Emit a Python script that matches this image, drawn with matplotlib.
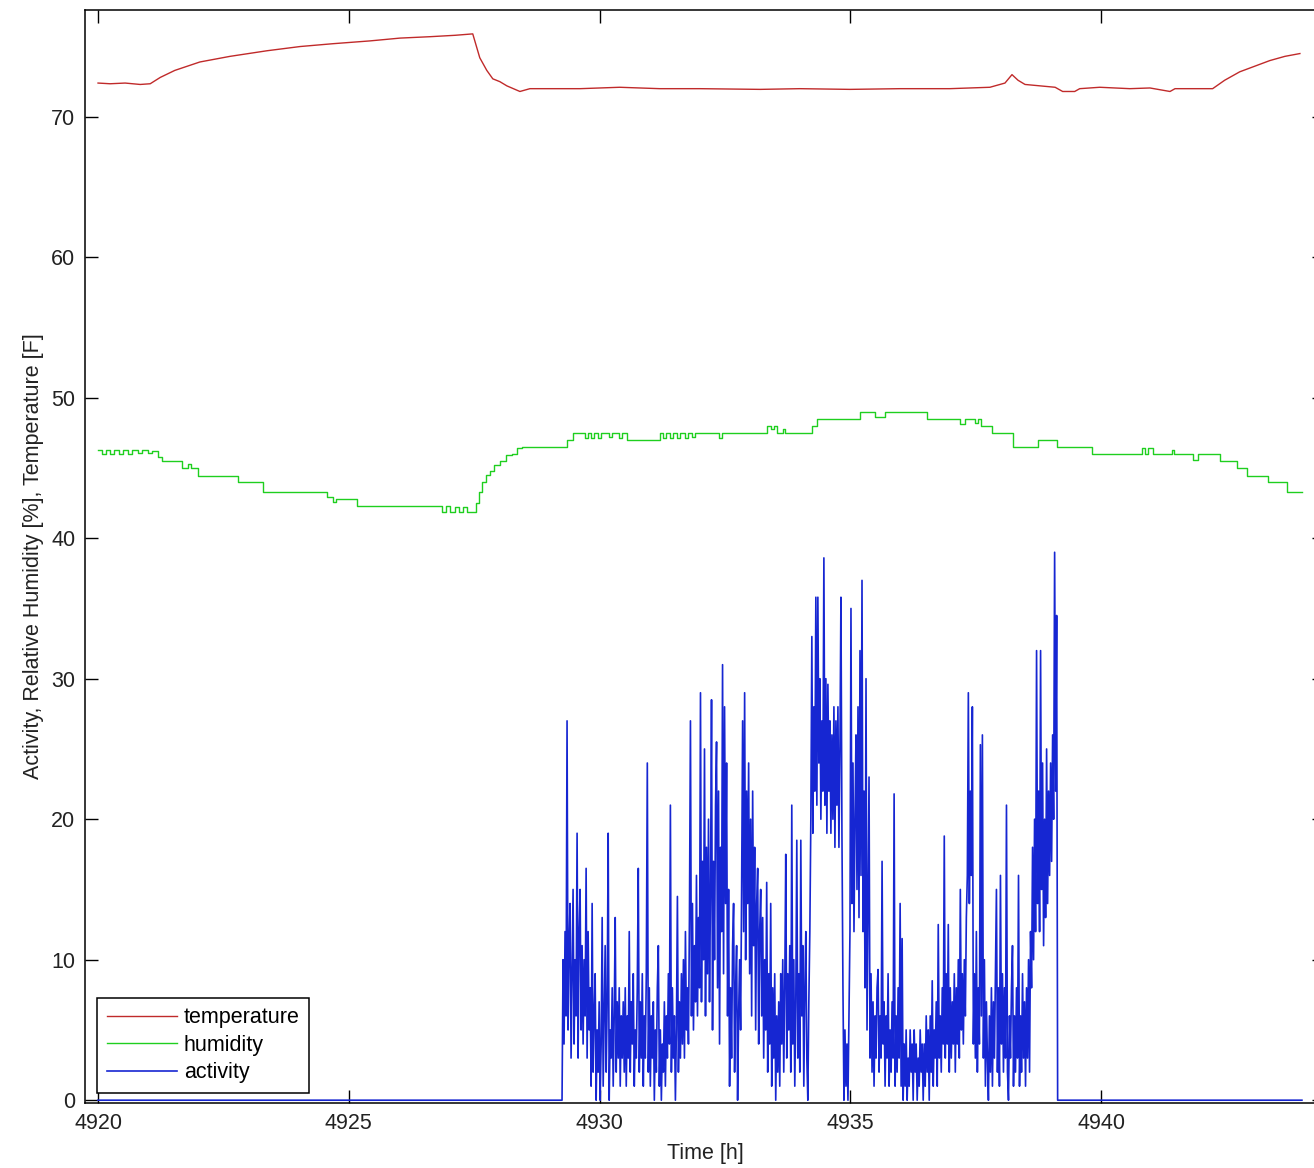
import numpy as np
import matplotlib
matplotlib.use('Agg')
import matplotlib.pyplot as plt

# temperature [F]
temp_time = [4920.00, 4920.24, 4920.54, 4920.84, 4921.04, 4921.24, 4921.53, 4922.03,
             4922.63, 4923.37, 4924.03, 4924.68, 4925.42, 4926.02, 4926.62, 4927.12,
             4927.47, 4927.61, 4927.75, 4927.87, 4928.01, 4928.15, 4928.41, 4928.61,
             4929.61, 4930.40, 4931.20, 4932.00, 4933.20, 4933.99, 4934.99, 4935.99,
             4936.98, 4937.78, 4938.08, 4938.22, 4938.34, 4938.48, 4938.78, 4939.08,
             4939.23, 4939.47, 4939.57, 4939.97, 4940.57, 4940.97, 4941.37, 4941.47,
             4942.22, 4942.46, 4942.76, 4943.06, 4943.36, 4943.66, 4943.96]
temp_vals = [72.4, 72.35, 72.4, 72.3, 72.35, 72.8, 73.3, 73.9,
             74.3, 74.7, 75.0, 75.2, 75.4, 75.6, 75.7, 75.8,
             75.9, 74.2, 73.3, 72.7, 72.5, 72.2, 71.8, 72.0,
             72.0, 72.1, 72.0, 72.0, 71.95, 72.0, 71.95, 72.0,
             72.0, 72.1, 72.4, 73.0, 72.6, 72.3, 72.2, 72.1,
             71.8, 71.8, 72.0, 72.1, 72.0, 72.05, 71.8, 72.0,
             72.0, 72.6, 73.2, 73.6, 74.0, 74.3, 74.5]

# relative humidity [%], step changes
hum_time = [4920.00, 4920.08, 4920.16, 4920.24, 4920.32, 4920.42, 4920.50, 4920.60,
            4920.68, 4920.80, 4920.88, 4921.00, 4921.08, 4921.20, 4921.28, 4921.67,
            4921.79, 4921.85, 4921.99, 4922.79, 4923.29, 4924.56, 4924.68, 4924.74,
            4925.16, 4926.86, 4926.94, 4927.02, 4927.12, 4927.20, 4927.28, 4927.36,
            4927.53, 4927.59, 4927.65, 4927.73, 4927.81, 4927.89, 4928.01, 4928.13,
            4928.25, 4928.35, 4928.45, 4929.35, 4929.47, 4929.71, 4929.77, 4929.83,
            4929.89, 4929.97, 4930.03, 4930.19, 4930.25, 4930.38, 4930.45, 4930.54,
            4931.20, 4931.26, 4931.32, 4931.40, 4931.46, 4931.54, 4931.60, 4931.70,
            4931.76, 4931.84, 4931.90, 4932.38, 4932.44, 4933.33, 4933.41, 4933.47,
            4933.53, 4933.65, 4933.69, 4934.23, 4934.33, 4935.19, 4935.49, 4935.69,
            4936.52, 4937.18, 4937.28, 4937.48, 4937.54, 4937.60, 4937.82, 4938.24,
            4938.74, 4939.11, 4939.81, 4940.81, 4940.87, 4940.93, 4941.03, 4941.41,
            4941.45, 4941.83, 4941.92, 4942.36, 4942.70, 4942.90, 4943.32, 4943.70,
            4944.00]
hum_vals = [46.3, 46.0, 46.3, 46.0, 46.3, 46.0, 46.3, 46.0,
            46.3, 46.1, 46.3, 46.1, 46.2, 45.8, 45.5, 45.0,
            45.3, 45.0, 44.4, 44.0, 43.3, 42.9, 42.6, 42.8,
            42.3, 41.9, 42.3, 41.9, 42.2, 41.9, 42.2, 41.9,
            42.5, 43.3, 44.0, 44.5, 44.8, 45.2, 45.5, 45.9,
            46.0, 46.4, 46.5, 47.0, 47.5, 47.1, 47.5, 47.1,
            47.5, 47.1, 47.5, 47.2, 47.5, 47.1, 47.5, 47.0,
            47.5, 47.1, 47.5, 47.1, 47.5, 47.1, 47.5, 47.1,
            47.5, 47.2, 47.5, 47.1, 47.5, 48.0, 47.8, 48.0,
            47.5, 47.8, 47.5, 48.0, 48.5, 49.0, 48.6, 49.0,
            48.5, 48.1, 48.5, 48.2, 48.5, 48.0, 47.5, 46.5,
            47.0, 46.5, 46.0, 46.4, 46.0, 46.4, 46.0, 46.3,
            46.0, 45.6, 46.0, 45.5, 45.0, 44.4, 44.0, 43.3,
            43.3]

# activity counts, one reading every 0.02 h from act_start
act_start = 4929.25
act_step = 0.02
act_vals = [0,
    10, 4, 12, 6, 27, 5, 11, 14, 3, 9, 15, 4, 10, 6, 19, 3, 12, 15, 5, 11,
    4, 10, 6, 16.5, 3, 12, 5, 8, 1, 14, 2, 6, 9, 0, 5, 2, 7, 0, 4, 13,
    1, 6, 11, 2, 7, 19, 0, 5, 3, 8, 1, 6, 13, 2, 7, 3, 8, 1, 6, 3,
    7, 2, 8, 1, 6, 3, 12, 2, 7, 4, 9, 1, 5, 3, 8, 16.5, 2, 7, 3, 9,
    1, 6, 3, 9, 24, 2, 8, 1, 6, 3, 7, 0, 5, 2, 8, 11, 1, 5, 0, 4,
    2, 7, 1, 6, 3, 9, 4, 21, 2, 8, 3, 6, 0, 5, 14.5, 2, 7, 3, 9, 4,
    10, 3, 12, 5, 8, 4, 13, 27, 6, 14, 5, 11, 7, 16, 6, 13, 8, 29, 7, 17,
    10, 25, 6, 18, 9, 20, 7, 15, 28.5, 5, 17, 10, 21, 25.5, 8, 22, 4, 18, 12, 31,
    9, 28, 14, 24, 6, 15, 1, 8, 3, 11, 14, 2, 8, 11, 0, 6, 10, 5, 15, 27,
    12, 29, 10, 22, 14, 24, 9, 20, 6, 22, 11, 18, 5, 14, 16.5, 4, 12, 15, 6, 13,
    3, 10, 5, 15.5, 2, 9, 4, 14, 1, 8, 3, 9, 0, 6, 2, 7, 1, 9, 4, 10,
    2, 8, 17.5, 3, 9, 5, 11, 2, 21, 4, 10, 1, 7, 18.5, 3, 9, 2, 18.5, 6, 11,
    1, 8, 12, 3, 0, 7, 12, 20, 33, 19, 28, 22, 35.8, 21, 35.8, 24, 30, 20, 27, 22,
    38.6, 21, 30, 19, 29.6, 22, 27, 19, 26, 20, 28, 18, 27, 21, 28, 18, 25, 35.8, 19, 8,
    0, 5, 1, 4, 0, 6, 12, 35, 14, 24, 12, 20, 26, 15, 28, 13, 32, 16, 37, 12,
    22, 8, 30, 5, 14, 23, 3, 9, 2, 7, 1, 6, 3, 8, 9.3, 2, 6, 3, 17, 4,
    7, 1, 6, 3, 9, 1, 5, 2, 7, 3, 21.8, 1, 6, 2, 8, 3, 14, 1, 11.5, 0,
    4, 1, 5, 0, 3, 1, 5, 2, 4, 0, 5, 2, 4, 0, 3, 1, 5, 2, 4, 0,
    4, 1, 6, 2, 5, 0, 6, 2, 8.5, 1, 5, 3, 7, 1, 12.5, 3, 6, 2, 8, 4,
    18.8, 3, 9, 4, 12.5, 2, 8, 3, 7, 4, 9, 2, 8, 4, 10, 3, 15, 5, 9, 4,
    10, 6, 13, 16, 29, 14, 22, 16, 28, 4, 9, 3, 12, 2, 8, 4, 25.3, 6, 26, 3,
    10, 1, 7, 3, 0, 6, 2, 8, 1, 7, 3, 9, 15, 2, 8, 1, 16, 4, 9, 2,
    8, 3, 21, 2, 0, 6, 3, 8, 11, 1, 6, 2, 8, 3, 16, 1, 6, 2, 9, 3,
    7, 1, 8, 3, 10, 2, 12, 8, 18, 10, 20, 12, 32, 14, 22, 12, 32, 15, 24, 11,
    20, 13, 25, 14, 22, 16, 24, 17, 26, 20, 39, 22, 34.5, 0]
act_end = 4944.0

x_ticks = [4920, 4925, 4930, 4935, 4940]
y_ticks = [0, 10, 20, 30, 40, 50, 60, 70]

plt.rcParams['font.family'] = ['Liberation Sans', 'DejaVu Sans']

act_time = act_start + act_step * np.arange(len(act_vals))
act_time = np.concatenate([[4920.0], act_time, [act_end]])
act_y = np.concatenate([[0], act_vals, [0]])

fig = plt.figure(figsize=(13.14, 11.68), dpi=100)
ax = fig.add_axes([85 / 1314, 65 / 1168, 1240 / 1314, 1093 / 1168])

ax.plot(temp_time, temp_vals, color='#c02a2a', lw=1.0, label='temperature')
ax.step(hum_time, hum_vals, where='post', color='#1fcf1f', lw=1.0, label='humidity')
ax.plot(act_time, act_y, color='#1626d2', lw=1.2, label='activity')

ax.set_xlim(4919.74, 4944.46)
ax.set_ylim(-0.2, 77.6)
ax.set_xticks(x_ticks)
ax.set_yticks(y_ticks)
ax.tick_params(direction='in', top=True, right=True, length=9.4, width=1.0,
               labelsize=15.5, pad=7, labelcolor='#222222')
for s in ax.spines.values():
    s.set_linewidth(1.1)

ax.set_xlabel('Time [h]', fontsize=15.5, labelpad=7, color='#222222')
ax.set_ylabel('Activity, Relative Humidity [%], Temperature [F]', fontsize=15.5,
              labelpad=5, color='#222222')

leg = ax.legend(loc='lower left', bbox_to_anchor=(0.0098, 0.0091), borderaxespad=0,
                fontsize=15.5, handlelength=3.25, handletextpad=0.33, borderpad=0.45,
                labelspacing=0.3, fancybox=False, framealpha=1)
leg.get_frame().set_edgecolor('black')
leg.get_frame().set_linewidth(1.1)

fig.savefig('out.png', dpi=100)
